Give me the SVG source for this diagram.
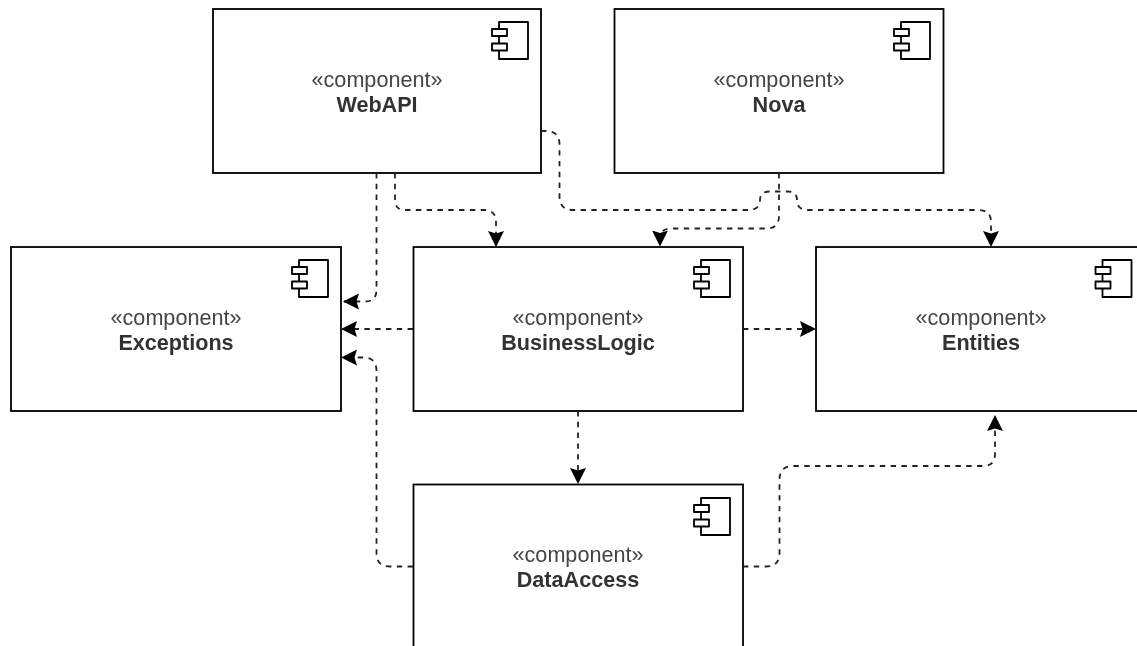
<svg xmlns="http://www.w3.org/2000/svg" width="1137" height="646" viewBox="0 0 1137 646">
<style>
.box{fill:#fff;stroke:#000;stroke-width:1.8}
.ic{fill:#fff;stroke:#000;stroke-width:1.8;stroke-linejoin:round}
text{font-family:"Liberation Sans",Arial,sans-serif;fill:#444;text-anchor:middle;font-size:21.6px}
.nm{font-weight:bold;fill:#333}
.c{fill:none;stroke:#222;stroke-width:1.8;stroke-dasharray:5.4 5.4;marker-end:url(#a)}
</style>
<defs>
<filter id="soft" filterUnits="userSpaceOnUse" x="0" y="0" width="1137" height="646"><feGaussianBlur stdDeviation="0.5"/></filter>
<marker id="a" markerUnits="userSpaceOnUse" markerWidth="18" markerHeight="18" refX="16" refY="8" orient="auto"><path d="M0 0L16 8L0 16L2.500 8Z" fill="#000"/></marker>
<g id="icon"><rect class="ic" x="286" y="13" width="29" height="37"/><rect class="ic" x="279" y="20" width="15" height="7"/><rect class="ic" x="279" y="34.500" width="15" height="7"/></g>
</defs>
<rect width="1137" height="646" fill="#fff"/>
<g filter="url(#soft)">
<g id="WebAPI"><rect class="box" x="213" y="9" width="328" height="164"/><use href="#icon" x="213" y="9"/><text x="377" y="87">«component»</text><text class="nm" x="377" y="112">WebAPI</text></g>
<g id="Nova"><rect class="box" x="614.500" y="9" width="329" height="164"/><use href="#icon" x="615" y="9"/><text x="779" y="87">«component»</text><text class="nm" x="779" y="112">Nova</text></g>
<g id="Exceptions"><rect class="box" x="11" y="247" width="330" height="164"/><use href="#icon" x="13" y="247"/><text x="176" y="325">«component»</text><text class="nm" x="176" y="350">Exceptions</text></g>
<g id="BusinessLogic"><rect class="box" x="413.500" y="247" width="329.500" height="164"/><use href="#icon" x="415" y="247"/><text x="578" y="325">«component»</text><text class="nm" x="578" y="350">BusinessLogic</text></g>
<g id="Entities"><rect class="box" x="816" y="247" width="330" height="164"/><use href="#icon" x="816.500" y="247"/><text x="981" y="325">«component»</text><text class="nm" x="981" y="350">Entities</text></g>
<g id="DataAccess"><rect class="box" x="413.500" y="484.500" width="329.500" height="175"/><use href="#icon" x="415" y="485"/><text x="578" y="562">«component»</text><text class="nm" x="578" y="587">DataAccess</text></g>
<g id="connectors">
<path class="c" d="M541 131H546Q559.500 131 559.500 144.500V196Q559.500 210 573 210H748Q760 210 760 200Q760 191.500 770 191.500H788Q797 191.500 797 200Q797 210 808 210H978Q991 210 991 222V247"/>
<path class="c" d="M779 173V216Q779 228.500 766 228.500H672Q660 228.500 660 238V246.500"/>
<path class="c" d="M395 173V200Q395 210 405 210H484Q496 210 496 222V247"/>
<path class="c" d="M376.500 173V290Q376.500 301.500 365 301.500H343"/>
<path class="c" d="M413 329H341"/>
<path class="c" d="M413 566.500H390Q376.500 566.500 376.500 553V371Q376.500 357.500 363 357.500H341"/>
<path class="c" d="M578 411V484"/>
<path class="c" d="M743 329H816"/>
<path class="c" d="M743 566.500H766Q779.500 566.500 779.500 553V480Q779.500 466 793 466H983Q995 466 995 454V415"/>
</g>
</g>
</svg>
